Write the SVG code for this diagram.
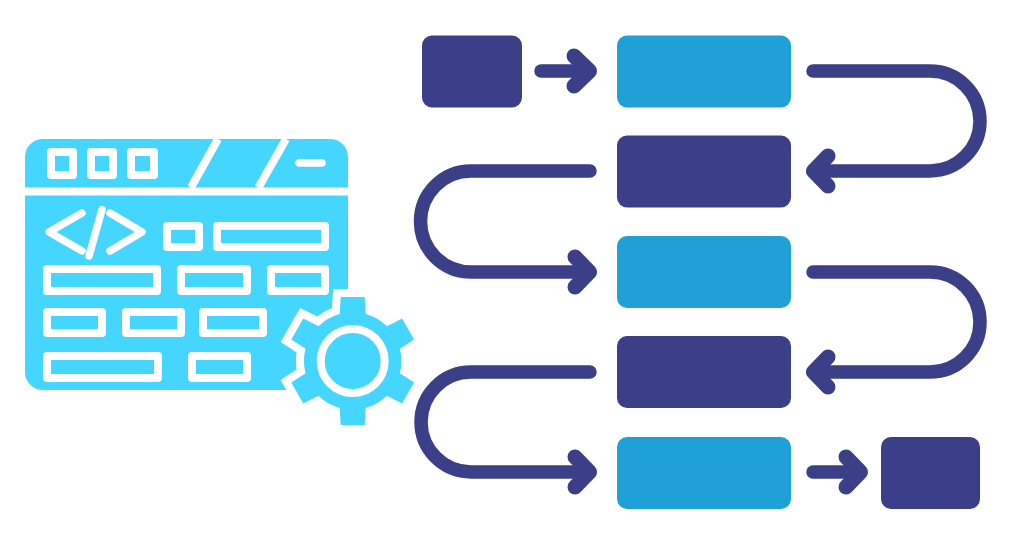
<svg xmlns="http://www.w3.org/2000/svg" width="1024" height="538" viewBox="0 0 1024 538">
<style>
.dark{fill:#3b3f87}
.blue{fill:#1fa1d8}
.panel{fill:#45d6ff}
.w{fill:none;stroke:#fff;stroke-width:8;stroke-linejoin:round}
.wl{fill:none;stroke:#fff;stroke-width:8;stroke-linecap:butt}
.wr{fill:none;stroke:#fff;stroke-width:7.5;stroke-linecap:round;stroke-linejoin:round}
.c{fill:none;stroke:#3b3f87;stroke-width:13.5;stroke-linecap:round;stroke-linejoin:round}
.h{fill:none;stroke:#3b3f87;stroke-width:15;stroke-linecap:round;stroke-linejoin:round}
</style>
<rect width="1024" height="538" fill="#fff"/>
<g id="code-window">
<path class="panel" d="M43 139H330A18 18 0 0 1 348 157V390H43A18 18 0 0 1 25 372V157A18 18 0 0 1 43 139Z"/>
<path class="wl" d="M25 191.500H348M218 139L191 187.500M286 139L258.500 187.500"/>
<path class="wr" d="M299 163H322M82 213L49 232L82 251M102 209.500L89 256M110 213L142 232L110 251"/>
<rect class="w" x="51" y="152" width="22" height="23"/><rect class="w" x="91" y="152" width="22" height="23"/><rect class="w" x="131" y="152" width="23" height="23"/>
<rect class="w" x="167" y="226" width="32" height="21"/><rect class="w" x="217" y="226" width="108" height="21"/>
<rect class="w" x="47" y="269" width="110" height="22"/><rect class="w" x="181" y="269" width="66" height="22"/><rect class="w" x="271" y="269" width="54" height="22"/>
<rect class="w" x="47" y="312" width="55" height="21"/><rect class="w" x="126" y="312" width="55" height="21"/><rect class="w" x="203" y="312" width="60" height="21"/>
<rect class="w" x="47" y="356" width="111" height="22"/><rect class="w" x="192" y="356" width="55" height="22"/>
</g>
<g id="gear" transform="translate(352.700 361)">
<defs><path id="gear-shape" d="M-13 -47L-12 -64H12L13 -47A49 49 0 0 1 34.200 -34.800L49.400 -42.400L61.400 -21.600L47.200 -12.200A49 49 0 0 1 47.200 12.200L61.400 21.600L49.400 42.400L34.200 34.800A49 49 0 0 1 13 47L12 64H-12L-13 47A49 49 0 0 1 -34.200 34.800L-49.400 42.400L-61.400 21.600L-47.200 12.200A49 49 0 0 1 -47.200 -12.200L-61.400 -21.600L-49.400 -42.400L-34.200 -34.800A49 49 0 0 1 -13 -47Z"/></defs>
<use href="#gear-shape" fill="#fff" stroke="#fff" stroke-width="16" stroke-linejoin="miter"/>
<use href="#gear-shape" class="panel"/>
<circle r="32" fill="none" stroke="#fff" stroke-width="8"/>
</g>
<g id="connectors">
<path class="c" d="M541 71H589"/><path class="h" d="M574 56L589.500 71L574 86"/>
<path class="c" d="M813 71H930A50 50 0 0 1 930 171H813"/><path class="h" d="M828 156L813.500 171L828 186"/>
<path class="c" d="M590 171H471A50.500 50.500 0 0 0 471 272H590"/><path class="h" d="M575 257L589.500 272L575 287"/>
<path class="c" d="M813 272H930A50 50 0 0 1 930 372H813"/><path class="h" d="M828 357L813.500 372L828 387"/>
<path class="c" d="M590 372H471A50 50 0 0 0 471 472H590"/><path class="h" d="M575 457L589.500 472L575 487"/>
<path class="c" d="M813 472H860"/><path class="h" d="M846 457L860.500 472L846 487"/>
</g>
<g id="step-0"><rect class="dark" x="422" y="35.500" width="100" height="72" rx="10"/></g>
<g id="step-1"><rect class="blue" x="617" y="35.500" width="174" height="72" rx="10"/></g>
<g id="step-2"><rect class="dark" x="617" y="135.500" width="174" height="72" rx="10"/></g>
<g id="step-3"><rect class="blue" x="617" y="236" width="174" height="72" rx="10"/></g>
<g id="step-4"><rect class="dark" x="617" y="336" width="174" height="72" rx="10"/></g>
<g id="step-5"><rect class="blue" x="617" y="437" width="174" height="72" rx="10"/></g>
<g id="step-6"><rect class="dark" x="881" y="437" width="99" height="72" rx="10"/></g>
</svg>
